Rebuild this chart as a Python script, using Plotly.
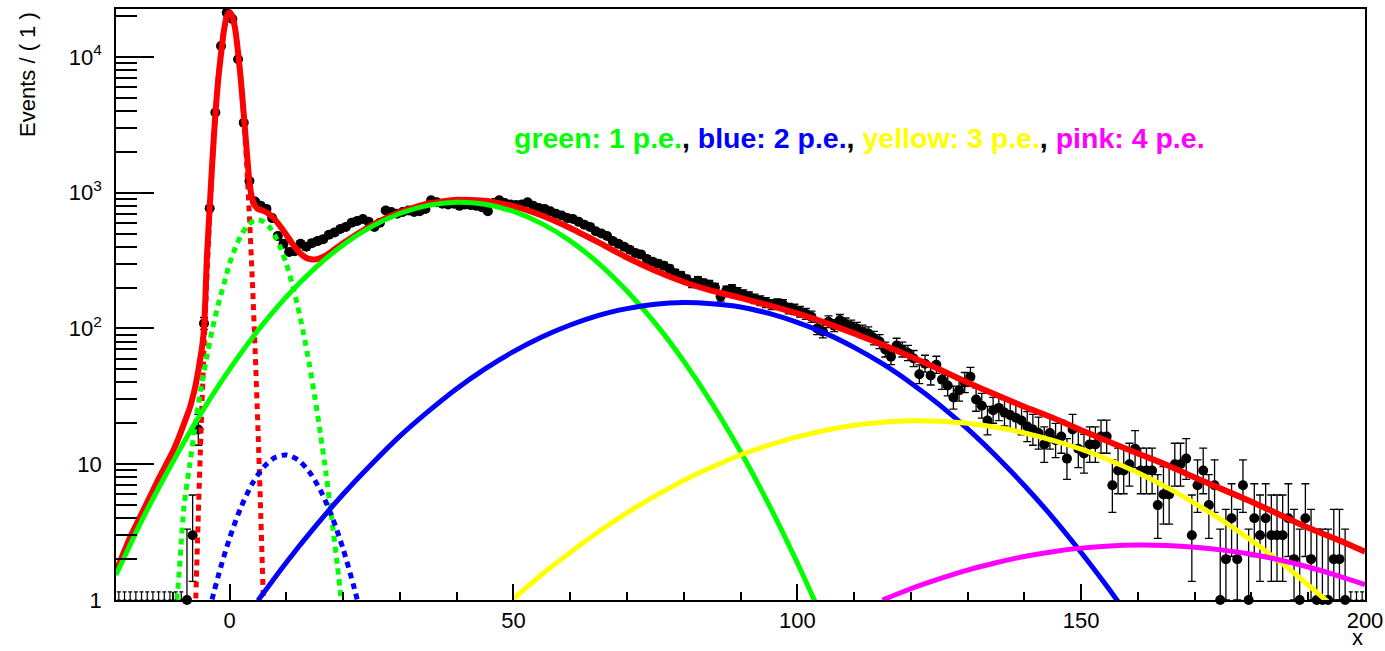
import numpy as np
import plotly.graph_objects as go

# ---------------- data ----------------
# histogram: 220 bins of width 1 between -20 and 200 (bin centres)
bin_centers = np.arange(-19.5, 200.0, 1.0)
counts = [
    0, 0, 0, 0, 0, 0, 0, 0, 0, 0,                                  # -19.5 .. -10.5
    0, 0, 1, 3, 18, 109, 768, 3900, 12050, 21200,                  # -9.5 .. -0.5
    19000, 9620, 3280, 1220, 860, 800, 760, 650, 480, 420,         # 0.5 .. 9.5
    366, 370, 420, 400, 425, 440, 455, 490, 510, 540,              # 10.5 .. 19.5
    560, 600, 620, 640, 610, 560, 600, 740, 720, 700,              # 20.5 .. 29.5
    720, 740, 720, 730, 760, 880, 850, 830, 820, 830,              # 30.5 .. 39.5
    800, 820, 810, 800, 780, 730, 840, 880, 840, 820,              # 40.5 .. 49.5
    810, 820, 850, 800, 770, 760, 730, 700, 680, 650,              # 50.5 .. 59.5
    640, 610, 580, 560, 520, 500, 480, 440, 420, 400,              # 60.5 .. 69.5
    380, 360, 350, 325, 310, 300, 290, 275, 255, 245,              # 70.5 .. 79.5
    230, 215, 225, 215, 210, 200, 172, 190, 195, 185,              # 80.5 .. 89.5
    178, 172, 165, 160, 155, 150, 152, 150, 140, 138,              # 90.5 .. 99.5
    133, 128, 122, 100, 95, 112, 105, 115, 108, 104,               # 100.5 .. 109.5
    100, 95, 92, 85, 80, 70, 62, 75, 70, 66,                       # 110.5 .. 119.5
    60, 46, 55, 45, 54, 42, 38, 31, 35, 40,                        # 120.5 .. 129.5
    44, 30, 27, 21, 25, 26, 24, 23, 22, 21,                        # 130.5 .. 139.5
    19, 18, 17, 14, 17, 15, 16, 11, 18, 13,                        # 140.5 .. 149.5
    12, 14, 14, 16, 16, 7, 9, 9, 10, 13,                           # 150.5 .. 159.5
    9, 9, 9, 5, 6, 6, 10, 10, 11, 3,                               # 160.5 .. 169.5
    7, 9, 5, 7, 1, 2, 4, 2, 7, 1,                                  # 170.5 .. 179.5
    4, 3, 4, 3, 3, 3, 4, 2, 1, 4,                                  # 180.5 .. 189.5
    2, 1, 1, 1, 2, 2, 1, 0, 0, 0,                                  # 190.5 .. 199.5
]

# total fit (red solid)
total_x = [-20, -17.5, -15, -12.5, -10, -9, -8, -7, -6.5, -6, -5.5, -5, -4.75, -4.5, -4.25,
           -4, -3.5, -3, -2.5, -2, -1.5, -1, -0.5, 0, 0.5, 1, 1.5, 2, 2.5, 3, 3.5, 4, 4.5,
           5, 6, 7, 8, 9, 10, 11, 12, 13, 14, 15, 16, 17, 18, 19, 20, 22, 25, 30, 35, 40,
           45, 50, 55, 60, 65, 70, 75, 80, 85, 90, 95, 100, 105, 110, 115, 120, 125, 130,
           135, 140, 145, 150, 155, 160, 165, 170, 175, 180, 185, 190, 195, 200]
total_y = [1.62, 2.9, 4.75, 7.8, 12.4, 15.5, 20, 26, 31, 38, 49, 66, 78, 100, 170,
           330, 780, 1800, 3770, 6800, 10500, 15500, 19800, 21300, 19900, 16000, 10800,
           6700, 3800, 2100, 1200, 900, 800, 760, 735, 695, 635, 560, 490, 425, 375, 342,
           325, 322, 330, 345, 370, 396, 424, 482, 572, 719, 832, 887, 872, 797, 680, 550,
           430, 333, 266, 220, 189, 168, 148, 129, 110, 92, 76, 62, 50, 40, 32.5, 26.5, 22,
           17.8, 14.6, 12.0, 9.9, 8.0, 6.5, 5.3, 4.25, 3.4, 2.8, 2.27]

# pedestal (red dashed)
ped_x = [-6, -5.5, -5, -4.5, -4, -3.5, -3, -2.5, -2, -1.5, -1, -0.5, 0,
         0.5, 1, 1.5, 2, 2.5, 3, 3.5, 4, 4.5, 5, 5.5, 6]
ped_y = [0.85, 4.26, 18.6, 70.6, 233, 669, 1667, 3610, 6790, 11100, 15780, 19480, 20890,
         19480, 15780, 11100, 6790, 3610, 1667, 669, 233, 70.6, 18.6, 4.26, 0.85]

# green dashed component
gdash_x = [-10, -9.3, -8, -7, -6, -5, -4, -3, -2, -1, 0, 1, 2, 3, 4, 5, 6, 7, 8, 9, 10,
           11, 12, 13, 14, 15, 16, 17, 18, 19, 20]
gdash_y = [0.7, 1.0, 5.0, 10, 20, 37, 62, 100, 150, 212, 300, 391, 482, 560, 612, 631, 612,
           560, 482, 391, 299, 215, 146, 93, 56, 31.6, 16.9, 8.5, 4.0, 1.79, 0.75]

# blue dashed component
bdash_x = [-4, -3, -2, 0, 2, 4, 6, 8, 10, 12, 14, 16, 18, 20, 22, 23.5]
bdash_y = [0.7, 1.04, 1.5, 2.85, 4.8, 7.18, 9.53, 11.2, 11.7, 10.8, 8.85, 6.44, 4.16, 2.38,
           1.21, 0.68]

# 1 p.e. (green)
pe1_x = [-20, -15, -10, -5, 0, 5, 10, 15, 20, 25, 30, 35, 40, 45, 50, 55, 60, 65, 70, 75,
         80, 85, 90, 95, 100, 105]
pe1_y = [1.53, 4.2, 10.4, 23.8, 50, 96.6, 171, 277, 412, 562, 703, 807, 851, 822, 728, 592,
         442, 302, 189, 109, 57.5, 27.9, 12.4, 5.04, 1.88, 0.65]

# 2 p.e. (blue)
pe2_x = [5, 10, 15, 20, 25, 30, 35, 40, 45, 50, 55, 60, 65, 70, 75, 80, 85, 90, 95, 100,
         105, 110, 115, 120, 125, 130, 135, 140, 145, 150, 155, 160]
pe2_y = [0.99, 1.89, 3.44, 6.01, 10.0, 16.1, 24.5, 36.0, 50.4, 67.5, 86.5, 106, 125, 140,
         151, 155, 152, 144, 129, 111, 92, 72.6, 55, 39.7, 27.5, 18.2, 11.5, 6.97, 4.05,
         2.24, 1.19, 0.6]

# 3 p.e. (yellow)
pe3_x = [50, 55, 60, 65, 70, 75, 80, 85, 90, 95, 100, 105, 110, 115, 120, 125, 130, 135,
         140, 145, 150, 155, 160, 165, 170, 175, 180, 185, 190, 195]
pe3_y = [1.02, 1.54, 2.24, 3.18, 4.38, 5.84, 7.59, 9.53, 11.7, 13.8, 15.9, 17.8, 19.4, 20.4,
         20.9, 20.7, 20.0, 18.7, 17.0, 15.0, 12.9, 10.7, 8.65, 6.78, 5.16, 3.82, 2.74, 1.91,
         1.29, 0.85]

# 4 p.e. (pink)
pe4_x = [115, 120, 125, 130, 135, 140, 145, 150, 155, 160, 165, 170, 175, 180, 185, 190,
         195, 200]
pe4_y = [1.0, 1.21, 1.43, 1.66, 1.88, 2.09, 2.27, 2.41, 2.50, 2.54, 2.52, 2.45, 2.33, 2.17,
         1.97, 1.75, 1.52, 1.30]

y_tick_vals = [1, 10, 100, 1000, 10000]
y_tick_text = ["1", "10", "10<sup>2</sup>", "10<sup>3</sup>", "10<sup>4</sup>"]
x_tick_vals = [0, 50, 100, 150, 200]

Y_FLOOR = 1.0          # bottom of the log axis
ZERO_UPPER = 1.147     # upper Poisson limit drawn for empty bins

# ---------------- figure ----------------
n = np.array(counts, dtype=float)
filled = n > 0
nf = n[filled]
upper = nf + np.sqrt(nf + 0.75) + 1.0
lower = nf * (1.0 - 1.0 / (9.0 * nf) - 1.0 / (3.0 * np.sqrt(nf))) ** 3
err_hi = upper - nf
err_lo = nf - np.maximum(lower, Y_FLOOR)
n_empty = int((~filled).sum())

fig = go.Figure()

# empty bins: only the short upper error bar at the floor of the axis
fig.add_trace(go.Scatter(
    x=bin_centers[~filled], y=np.full(n_empty, Y_FLOOR),
    mode="markers", marker=dict(size=1, color="rgba(0,0,0,0)"),
    error_y=dict(type="data", symmetric=False, array=np.full(n_empty, ZERO_UPPER - Y_FLOOR),
                 arrayminus=np.zeros(n_empty), color="black", thickness=1.2, width=2),
    cliponaxis=False, hoverinfo="skip"))

fig.add_trace(go.Scatter(
    x=bin_centers[filled], y=nf, mode="markers",
    marker=dict(size=10, color="black"),
    error_y=dict(type="data", symmetric=False, array=err_hi, arrayminus=err_lo,
                 color="black", thickness=1.3, width=4),
    cliponaxis=False))

def curve(x, y, color, width, dash="solid", smoothing=0.8):
    fig.add_trace(go.Scatter(x=x, y=y, mode="lines",
                             line=dict(color=color, width=width, dash=dash, shape="spline",
                                       smoothing=smoothing)))

curve(total_x, total_y, "#ff0000", 6, smoothing=0.5)
curve(ped_x, ped_y, "#ff0000", 5, "6px,5px")
curve(gdash_x, gdash_y, "#00ff00", 5, "6px,5px")
curve(bdash_x, bdash_y, "#0000ff", 5, "6px,5px")
curve(pe1_x, pe1_y, "#00ff00", 5)
curve(pe2_x, pe2_y, "#0000ff", 5)
curve(pe3_x, pe3_y, "#ffff00", 5)
curve(pe4_x, pe4_y, "#ff00ff", 5)

axis_font = dict(family="Liberation Sans", size=22, color="black")

fig.update_xaxes(
    range=[-20, 200], tickvals=x_tick_vals, ticks="inside", ticklen=16, tickwidth=1.5,
    tickcolor="black", showline=True, linecolor="black", linewidth=1.5, mirror=True,
    showgrid=False, zeroline=False, tickfont=axis_font, ticklabelstandoff=0,
    automargin=False,
    minor=dict(ticks="inside", ticklen=8, tickwidth=1.5, tickcolor="black", dtick=10,
               tick0=0, showgrid=False))

minor_y = [d * 10 ** e for e in range(0, 5) for d in range(2, 10)]
fig.update_yaxes(
    type="log", range=[0, 4.353], tickvals=y_tick_vals, ticktext=y_tick_text,
    ticks="inside", ticklen=38, tickwidth=1.5, tickcolor="black", showline=True,
    linecolor="black", linewidth=1.5, mirror=True, showgrid=False, zeroline=False,
    tickfont=axis_font, ticklabelstandoff=8, automargin=False,
    minor=dict(ticks="inside", ticklen=21, tickwidth=1.5, tickcolor="black",
               tickvals=minor_y, showgrid=False))

legend_text = ("<b><span style='color:#00ff00'>green: 1 p.e.</span>, "
               "<span style='color:#0000ff'>blue: 2 p.e.</span>, "
               "<span style='color:#ffff00'>yellow: 3 p.e.</span>, "
               "<span style='color:#ff00ff'>pink: 4 p.e.</span></b>")

fig.update_layout(
    width=1385, height=651, margin=dict(l=116, r=20, t=9, b=51, autoexpand=False),
    paper_bgcolor="white", plot_bgcolor="white", showlegend=False,
    font=dict(family="Liberation Sans", size=22, color="black"),
    annotations=[
        dict(text=legend_text, x=0.317, y=0.781, xref="paper", yref="paper",
             xanchor="left", yanchor="middle", showarrow=False,
             font=dict(family="Liberation Sans", size=28.5, color="black")),
        dict(text="Events / ( 1 )", x=-0.0713, y=0.890, xref="paper", yref="paper",
             xanchor="center", yanchor="middle", textangle=-90, showarrow=False,
             font=dict(family="Liberation Sans", size=22, color="black")),
        dict(text="x", x=0.9936, y=-0.064, xref="paper", yref="paper",
             xanchor="center", yanchor="middle", showarrow=False,
             font=dict(family="Liberation Sans", size=22, color="black")),
    ])

fig.write_html("out.html", config={"displayModeBar": False},
               post_script="document.body.style.margin='0';")
